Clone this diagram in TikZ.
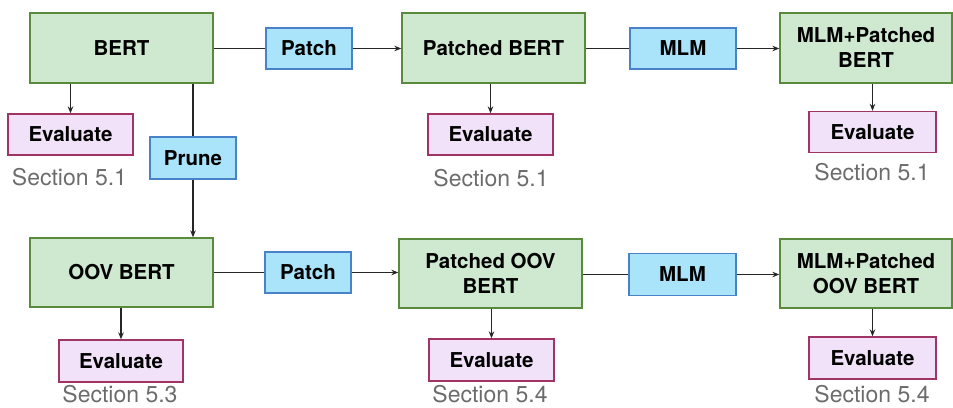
\documentclass[tikz,border=0pt]{standalone}
\usepackage{fontspec}
\setmainfont{TeX Gyre Heros}
\usetikzlibrary{arrows.meta}
\definecolor{gfill}{RGB}{206,233,208}
\definecolor{gdraw}{RGB}{88,140,60}
\definecolor{bfill}{RGB}{170,228,250}
\definecolor{bdraw}{RGB}{72,130,200}
\definecolor{pfill}{RGB}{241,226,250}
\definecolor{pdraw}{RGB}{160,52,100}
\definecolor{secgray}{RGB}{108,108,108}
\tikzset{
  model/.style={draw=gdraw, fill=gfill, line width=1.3pt, inner sep=0pt, align=center,
    font=\fontsize{20.5}{25}\selectfont\bfseries},
  opbox/.style={draw=bdraw, fill=bfill, line width=1.3pt, inner sep=0pt, align=center,
    font=\fontsize{20.5}{25}\selectfont\bfseries, minimum height=41pt},
  evalbox/.style={draw=pdraw, fill=pfill, line width=1.3pt, inner sep=0pt,
    font=\fontsize{20.5}{25}\selectfont\bfseries, minimum height=41pt},
  seclabel/.style={text=secgray, inner sep=0pt, font=\fontsize{23}{26}\selectfont},
  conn/.style={line width=1.1pt, draw=black!85},
  arr/.style={conn, -{Stealth[length=7pt,width=5.5pt]}}
}
\begin{document}
\begin{tikzpicture}[x=1pt,y=-1pt]
\useasboundingbox (0,0) rectangle (953,407);
% top row
\node[model, minimum width=183pt, minimum height=70pt] (bert) at (121.5,48) {BERT};
\node[opbox, minimum width=86pt] (patch1) at (309,48.5) {Patch};
\node[model, minimum width=183pt, minimum height=70pt] (pbert) at (493.5,48) {Patched BERT};
\node[opbox, minimum width=106pt] (mlm1) at (683,48.5) {MLM};
\node[model, minimum width=172pt, minimum height=70pt] (mpbert) at (866,48) {MLM+Patched\\BERT};
\node[evalbox, minimum width=125pt] (eval1) at (70.5,134.5) {Evaluate};
\node[seclabel] (sec1) at (69.5,177) {Section 5.1};
\node[evalbox, minimum width=125pt] (eval3) at (490.5,134.5) {Evaluate};
\node[seclabel] (sec3) at (491,178) {Section 5.1};
\node[evalbox, minimum width=127pt] (eval4) at (872.5,132) {Evaluate};
\node[seclabel] (sec4) at (872,172) {Section 5.1};
\node[opbox, minimum width=86pt, minimum height=42pt] (prune) at (193,158) {Prune};
% bottom row
\node[model, minimum width=183pt, minimum height=69pt] (oov) at (121.5,272.5) {OOV BERT};
\node[opbox, minimum width=86pt] (patch2) at (308,272.5) {Patch};
\node[model, minimum width=183pt, minimum height=69pt] (poov) at (490.5,273.5) {Patched OOV\\BERT};
\node[opbox, minimum width=107pt, minimum height=42pt] (mlm2) at (682.5,274.5) {MLM};
\node[model, minimum width=172pt, minimum height=69pt] (mpoov) at (866,273.5) {MLM+Patched\\OOV BERT};
\node[evalbox, minimum width=124pt, minimum height=42pt] (eval2) at (121,361) {Evaluate};
\node[seclabel] (sec2) at (120,394.5) {Section 5.3};
\node[evalbox, minimum width=125pt, minimum height=42pt] (eval5) at (491.5,360) {Evaluate};
\node[seclabel] (sec5) at (490,394.5) {Section 5.4};
\node[evalbox, minimum width=127pt, minimum height=42pt] (eval6) at (872.5,358) {Evaluate};
\node[seclabel] (sec6) at (872,394.5) {Section 5.4};
% connectors top
\draw[conn] (bert.east |- patch1.west) -- (patch1.west);
\draw[arr] (patch1.east) -- (patch1.east -| pbert.west);
\draw[conn] (pbert.east |- mlm1.west) -- (mlm1.west);
\draw[arr] (mlm1.east) -- (mlm1.east -| mpbert.west);
\draw[arr] (eval1.north |- bert.south) -- (eval1.north);
\draw[arr] (eval3.north |- pbert.south) -- (eval3.north);
\draw[arr] (eval4.north |- mpbert.south) -- (eval4.north);
\draw[conn] (prune.north |- bert.south) -- (prune.north);
\draw[arr] (prune.south) -- (prune.south |- oov.north);
% connectors bottom
\draw[conn] (oov.east |- patch2.west) -- (patch2.west);
\draw[arr] (patch2.east) -- (patch2.east -| poov.west);
\draw[conn] (poov.east |- mlm2.west) -- (mlm2.west);
\draw[arr] (mlm2.east) -- (mlm2.east -| mpoov.west);
\draw[arr] (eval2.north |- oov.south) -- (eval2.north);
\draw[arr] (eval5.north |- poov.south) -- (eval5.north);
\draw[arr] (eval6.north |- mpoov.south) -- (eval6.north);
\end{tikzpicture}
\end{document}
